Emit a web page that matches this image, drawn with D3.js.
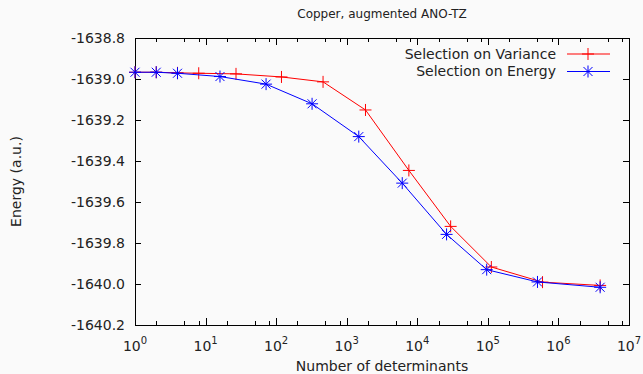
<!DOCTYPE html>
<html>
<head>
<meta charset="utf-8">
<script src="https://cdn.jsdelivr.net/npm/d3@7"></script>
<style>
  body { margin: 0; background: #fafafa; }
  svg text { font-family: "DejaVu Sans", sans-serif; fill: #222; }
</style>
</head>
<body>
<div id="chart"></div>
<script>
// values
const varianceDets = [1, 2, 4, 8, 27, 119, 462, 1845, 7600, 29700, 112000, 595000, 3900000];
const varianceEnergy = [-1638.967, -1638.967, -1638.970, -1638.972, -1638.975, -1638.990, -1639.014,
  -1639.151, -1639.446, -1639.719, -1639.917, -1639.991, -1640.007];

const energyDets = [1, 2, 4, 16, 72, 323, 1482, 6120, 26000, 96300, 505000, 3900000];
const energyEnergy = [-1638.967, -1638.967, -1638.972, -1638.988, -1639.025, -1639.121, -1639.281,
  -1639.508, -1639.758, -1639.930, -1639.990, -1640.016];

const yTicks = [-1638.8, -1639.0, -1639.2, -1639.4, -1639.6, -1639.8, -1640.0, -1640.2];
const xTicks = [1, 10, 100, 1e3, 1e4, 1e5, 1e6, 1e7];
const seriesNames = ['Selection on Variance', 'Selection on Energy'];

const width = 643;
const height = 374;
const margin = { top: 38, right: 14, bottom: 49, left: 135 };

const svg = d3.select('#chart').append('svg')
  .attr('width', width)
  .attr('height', height);

svg.append('rect').attr('width', width).attr('height', height).attr('fill', '#fafafa');

const xScale = d3.scaleLog()
  .domain([1, 1e7])
  .range([margin.left, width - margin.right]);

const yScale = d3.scaleLinear()
  .domain([-1640.2, -1638.8])
  .range([height - margin.bottom, margin.top]);

// minor ticks visible in the picture sit at 2, 5 and 8 of each decade
const minorTicks = [];
for (let e = 0; e < 7; e++) {
  [2, 5, 8].forEach(m => minorTicks.push(m * Math.pow(10, e)));
}

const fmtY = d => d3.format('.1f')(d).replace('−', '-');

// frame
svg.append('rect')
  .attr('x', margin.left + 0.5)
  .attr('y', margin.top + 0.5)
  .attr('width', width - margin.left - margin.right)
  .attr('height', height - margin.top - margin.bottom)
  .attr('fill', 'none')
  .attr('stroke', '#000')
  .attr('stroke-width', 1);

const tickG = svg.append('g').attr('stroke', '#000').attr('stroke-width', 1);
const x0 = margin.left, x1 = width - margin.right;
const y0 = height - margin.bottom, y1 = margin.top;

// y ticks (left and mirrored right)
yTicks.forEach(t => {
  const y = Math.round(yScale(t)) + 0.5;
  tickG.append('line').attr('x1', x0).attr('x2', x0 + 6).attr('y1', y).attr('y2', y);
  tickG.append('line').attr('x1', x1 - 6).attr('x2', x1).attr('y1', y).attr('y2', y);
});

// x ticks (bottom and mirrored top)
xTicks.forEach(t => {
  const x = Math.round(xScale(t)) + 0.5;
  tickG.append('line').attr('x1', x).attr('x2', x).attr('y1', y0).attr('y2', y0 - 7);
  tickG.append('line').attr('x1', x).attr('x2', x).attr('y1', y1).attr('y2', y1 + 7);
});
minorTicks.forEach(t => {
  const x = Math.round(xScale(t)) + 0.5;
  tickG.append('line').attr('x1', x).attr('x2', x).attr('y1', y0).attr('y2', y0 - 4);
  tickG.append('line').attr('x1', x).attr('x2', x).attr('y1', y1).attr('y2', y1 + 4);
});

// y tick labels
svg.append('g').selectAll('text')
  .data(yTicks)
  .join('text')
  .attr('x', margin.left - 10)
  .attr('y', d => yScale(d))
  .attr('dy', '0.35em')
  .attr('text-anchor', 'end')
  .attr('font-size', 14)
  .text(fmtY);

// x tick labels as 10^n
const xLab = svg.append('g').selectAll('text')
  .data(xTicks)
  .join('text')
  .attr('x', d => xScale(d))
  .attr('y', 351)
  .attr('text-anchor', 'middle')
  .attr('font-size', 14);
xLab.append('tspan').text('10');
xLab.append('tspan')
  .attr('dy', -7)
  .attr('font-size', 10)
  .text(d => Math.round(Math.log10(d)));

// title and axis titles
svg.append('text')
  .attr('x', (x0 + x1) / 2)
  .attr('y', 18)
  .attr('text-anchor', 'middle')
  .attr('font-size', 12)
  .text('Copper, augmented ANO-TZ');

svg.append('text')
  .attr('x', (x0 + x1) / 2)
  .attr('y', 371)
  .attr('text-anchor', 'middle')
  .attr('font-size', 14)
  .text('Number of determinants');

svg.append('text')
  .attr('transform', `translate(21,${(y0 + y1) / 2}) rotate(-90)`)
  .attr('text-anchor', 'middle')
  .attr('font-size', 14)
  .text('Energy (a.u.)');

// markers
const plusPath = s => `M${-s},0H${s}M0,${-s}V${s}`;
const starPath = s => `M${-s},0H${s}M0,${-s}V${s}M${-s * 0.75},${-s * 0.75}L${s * 0.75},${s * 0.75}M${-s * 0.75},${s * 0.75}L${s * 0.75},${-s * 0.75}`;

const series = [
  { name: seriesNames[0], color: '#ff0000', marker: plusPath,
    data: varianceDets.map((n, i) => ({ n, e: varianceEnergy[i] })) },
  { name: seriesNames[1], color: '#0000ff', marker: starPath,
    data: energyDets.map((n, i) => ({ n, e: energyEnergy[i] })) }
];

const line = d3.line()
  .x(d => xScale(d.n))
  .y(d => yScale(d.e));

series.forEach(s => {
  svg.append('path')
    .datum(s.data)
    .attr('fill', 'none')
    .attr('stroke', s.color)
    .attr('stroke-width', 1)
    .attr('d', line);
  svg.append('g').selectAll('path')
    .data(s.data)
    .join('path')
    .attr('transform', d => `translate(${xScale(d.n)},${yScale(d.e)})`)
    .attr('d', s.marker(6))
    .attr('fill', 'none')
    .attr('stroke', s.color)
    .attr('stroke-width', 1);
});

// legend
series.forEach((s, i) => {
  const ly = 54 + i * 17.5;
  svg.append('text')
    .attr('x', 556)
    .attr('y', ly)
    .attr('dy', '0.35em')
    .attr('text-anchor', 'end')
    .attr('font-size', 14)
    .text(s.name);
  svg.append('line')
    .attr('x1', 567).attr('x2', 610)
    .attr('y1', ly).attr('y2', ly)
    .attr('stroke', s.color);
  svg.append('path')
    .attr('transform', `translate(588,${ly})`)
    .attr('d', s.marker(6))
    .attr('fill', 'none')
    .attr('stroke', s.color);
});
</script>
</body>
</html>
